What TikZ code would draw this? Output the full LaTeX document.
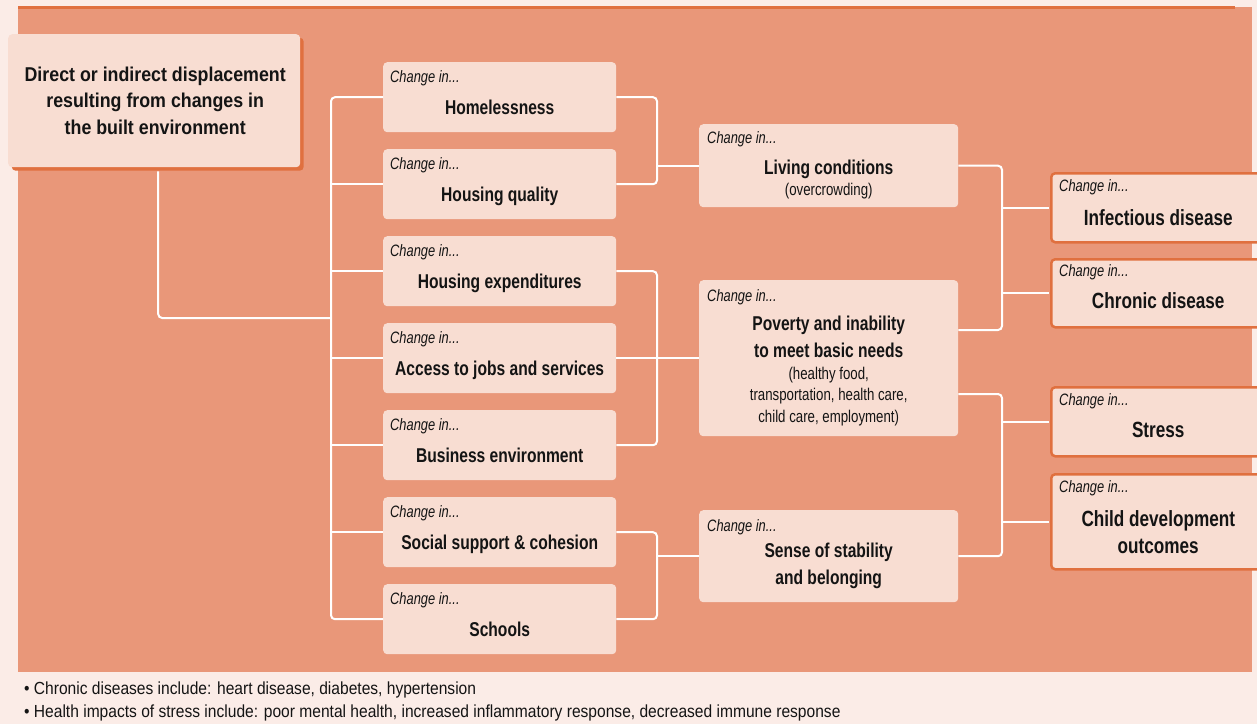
\documentclass[tikz,border=0pt]{standalone}
\usepackage{fontspec}
\setmainfont{Liberation Sans}[FakeStretch=0.78]
\newfontfamily\titlefont{Liberation Sans}[FakeStretch=0.89]
\usetikzlibrary{calc,shadows}

\definecolor{pagebg}{HTML}{FBECE7}
\definecolor{salmon}{HTML}{E99779}
\definecolor{boxfill}{HTML}{F8DDD2}
\definecolor{edge}{HTML}{E0703F}
\definecolor{ink}{HTML}{141414}

\tikzset{
  cbox/.style={fill=boxfill, rounded corners=4pt, anchor=north west, inner sep=0pt,
    minimum width=233pt, minimum height=70pt},
  rbox/.style={cbox, draw=edge, line width=2.5pt, minimum width=214pt},
  causebox/.style={cbox, minimum width=292pt, minimum height=133pt,
    general shadow={fill=edge, shadow xshift=3.5pt, shadow yshift=-3.5pt}},
  chg/.style={anchor=base west, inner sep=0pt, text=ink, font=\itshape\fontsize{16.5}{18}\selectfont},
  ttl/.style={anchor=base, inner sep=0pt, align=center, text=ink, font=\bfseries\fontsize{20}{27}\selectfont},
  rttl/.style={ttl, font=\bfseries\fontsize{22}{27}\selectfont},
  sub/.style={anchor=base, inner sep=0pt, align=center, text=ink, font=\fontsize{17}{21.5}\selectfont},
  causetxt/.style={anchor=base, inner sep=0pt, align=center, text=ink,
    font=\titlefont\bfseries\fontsize{20}{26.5}\selectfont},
  note/.style={anchor=base west, inner sep=0pt, text=ink, font=\titlefont\fontsize{17.5}{20}\selectfont},
  wire/.style={draw=white, line width=2pt, rounded corners=4pt},
}

\begin{document}
\begin{tikzpicture}[x=1pt,y=-1pt]
\useasboundingbox (0,0) rectangle (1257,724);
\fill[pagebg] (0,0) rectangle (1257,724);
\fill[salmon] (18,7) rectangle (1252,672);
\draw[edge, line width=2.5pt] (18,7.5) -- (1235,7.5);

% starting point
\node[causebox] at (8,34) (cause) {};
\node[causetxt] at ([shift={(1,100)}]cause.north) (cause-t) {Direct or indirect displacement\\resulting from changes in\\the built environment};

% first column
\foreach \n/\y/\t in {home/62/Homelessness, qual/149/Housing quality, spend/236/Housing expenditures,
    jobs/323/Access to jobs and services, biz/410/Business environment,
    social/497/Social support \& cohesion, school/584/Schools}{
  \node[cbox] at (383,\y) (\n) {};
  \node[chg] at ([shift={(7,20)}]\n.north west) (\n-c) {Change in...};
  \node[ttl] at ([shift={(0,52)}]\n.north) (\n-t) {\t};
}

% second column
\node[cbox, minimum width=259pt, minimum height=83pt] at (699,124) (living) {};
\node[chg] at ([shift={(8,19)}]living.north west) (living-c) {Change in...};
\node[ttl] at ([shift={(0,50)}]living.north) (living-t) {Living conditions};
\node[sub] at ([shift={(0,71)}]living.north) (living-s) {(overcrowding)};

\node[cbox, minimum width=259pt, minimum height=156pt] at (699,280) (pov) {};
\node[chg] at ([shift={(8,21)}]pov.north west) (pov-c) {Change in...};
\node[ttl] at ([shift={(0,77)}]pov.north) (pov-t) {Poverty and inability\\to meet basic needs};
\node[sub] at ([shift={(0,142)}]pov.north) (pov-s) {(healthy food,\\transportation, health care,\\child care, employment)};

\node[cbox, minimum width=259pt, minimum height=92pt] at (699,510) (sense) {};
\node[chg] at ([shift={(8,21)}]sense.north west) (sense-c) {Change in...};
\node[ttl] at ([shift={(0,74)}]sense.north) (sense-t) {Sense of stability\\and belonging};

% outcomes
\node[rbox, minimum height=69pt] at (1050,172) (infect) {};
\node[chg] at ([shift={(9,19)}]infect.north west) (infect-c) {Change in...};
\node[rttl] at ([shift={(0,53)}]infect.north) (infect-t) {Infectious disease};

\node[rbox, minimum height=68pt] at (1050,258) (chronic) {};
\node[chg] at ([shift={(9,18)}]chronic.north west) (chronic-c) {Change in...};
\node[rttl] at ([shift={(0,50)}]chronic.north) (chronic-t) {Chronic disease};

\node[rbox, minimum height=69pt] at (1050,386) (stress) {};
\node[chg] at ([shift={(9,19)}]stress.north west) (stress-c) {Change in...};
\node[rttl] at ([shift={(0,51)}]stress.north) (stress-t) {Stress};

\node[rbox, minimum height=95pt] at (1050,473) (child) {};
\node[chg] at ([shift={(9,19)}]child.north west) (child-c) {Change in...};
\node[rttl] at ([shift={(0,80)}]child.north) (child-t) {Child development\\outcomes};

% connectors
\coordinate (trunk) at (331,318);
\coordinate (ja) at (657,0);
\coordinate (jb) at (1002,0);
\coordinate (pov-a) at ([shift={(0,50)}]pov.north east);
\coordinate (pov-b) at ([shift={(0,114)}]pov.north east);

\draw[wire] ([shift={(4,4)}]cause.south) |- (trunk);
\draw[wire] (home.west) -| (trunk |- school.west) -- (school.west);
\foreach \n in {qual,spend,jobs,biz,social}
  \draw[wire] (trunk |- \n.west) -- (\n.west);

\draw[wire] (home.east) -| (ja |- qual.east) -- (qual.east);
\draw[wire] (ja |- living.west) -- (living.west);
\draw[wire] (spend.east) -| (ja |- biz.east) -- (biz.east);
\draw[wire] (jobs.east) -- (pov.west);
\draw[wire] (social.east) -| (ja |- school.east) -- (school.east);
\draw[wire] (ja |- sense.west) -- (sense.west);

\draw[wire] (living.east) -| (jb |- pov-a) -- (pov-a);
\draw[wire] (pov-b) -| (jb |- sense.east) -- (sense.east);
\foreach \n in {infect,chronic,stress,child}
  \draw[wire, shorten >=1.2pt] (jb |- \n.west) -- (\n.west);

% footnotes
\node[note] at (24,694) (note1) {• Chronic diseases include: heart disease, diabetes, hypertension};
\node[note] at (24,717) (note2) {• Health impacts of stress include: poor mental health, increased inflammatory response, decreased immune response};
\end{tikzpicture}
\end{document}
